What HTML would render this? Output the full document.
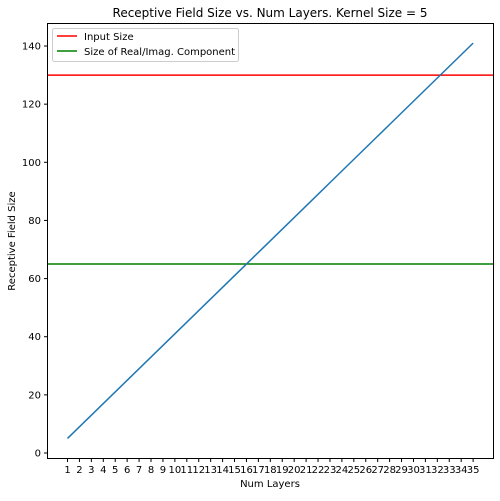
<!DOCTYPE html>
<html><head><meta charset="utf-8"><style>
body{margin:0;background:#fff;font-family:"Liberation Sans","DejaVu Sans",sans-serif;}
text{font-family:"DejaVu Sans","Liberation Sans",sans-serif;}
</style></head><body>
<svg id="chart" width="500" height="496" xmlns="http://www.w3.org/2000/svg">
<rect width="500" height="496" fill="#fff"/>
<text x="270" y="17" font-size="12" text-anchor="middle" fill="#000">Receptive Field Size vs. Num Layers. Kernel Size = 5</text>
<g id="plot"></g>
<rect x="47.5" y="23.5" width="446" height="435" fill="none" stroke="#000" stroke-width="1"/>
<text x="270" y="487" font-size="10" text-anchor="middle">Num Layers</text>
<text transform="translate(15,241) rotate(-90)" font-size="10" text-anchor="middle">Receptive Field Size</text>
<g>
<rect x="52.5" y="28.5" width="186" height="33" rx="2" fill="#fff" stroke="#ccc"/>
<line x1="57" y1="36" x2="77" y2="36" stroke="#ff0000" stroke-width="1.5"/>
<text x="84" y="40" font-size="10">Input Size</text>
<line x1="57" y1="51" x2="77" y2="51" stroke="#008000" stroke-width="1.5"/>
<text x="84" y="55" font-size="10">Size of Real/Imag. Component</text>
</g>
</svg>
<script>
const layers=[1,2,3,4,5,6,7,8,9,10,11,12,13,14,15,16,17,18,19,20,21,22,23,24,25,26,27,28,29,30,31,32,33,34,35];
const fieldSize=[5,9,13,17,21,25,29,33,37,41,45,49,53,57,61,65,69,73,77,81,85,89,93,97,101,105,109,113,117,121,125,129,133,137,141];
const inputSize=[130];
const componentSize=[65];
const yTicks=[0,20,40,60,80,100,120,140];
const NS="http://www.w3.org/2000/svg";
const xs=v=>67.5+(v-1)*11.93;
const ys=v=>453-v*2.907;
const g=document.getElementById('plot');
function mk(t,a){const e=document.createElementNS(NS,t);for(const k in a)e.setAttribute(k,a[k]);g.appendChild(e);return e;}
layers.forEach(v=>{
 const t=mk('line',{x1:xs(v),x2:xs(v),y1:458.5,y2:462,stroke:'#000'});
 
 
 const l=mk('text',{x:xs(v),y:473,'font-size':10,'text-anchor':'middle'});l.textContent=v;
 
 
});
yTicks.forEach(v=>{
 const t=mk('line',{x1:44,x2:47.5,y1:ys(v),y2:ys(v),stroke:'#000'});
 
 
 const l=mk('text',{x:41,y:ys(v)+3.5,'font-size':10,'text-anchor':'end'});l.textContent=v;
 
 
});
const r=mk('line',{x1:47.5,x2:493.5,y1:ys(inputSize[0]),y2:ys(inputSize[0]),stroke:'#ff0000','stroke-width':1.5});


const gr=mk('line',{x1:47.5,x2:493.5,y1:ys(componentSize[0]),y2:ys(componentSize[0]),stroke:'#008000','stroke-width':1.5});


const p=mk('polyline',{points:layers.map((v,i)=>xs(v)+','+ys(fieldSize[i])).join(' '),fill:'none',stroke:'#1f77b4','stroke-width':1.5});


</script>
</body></html>
